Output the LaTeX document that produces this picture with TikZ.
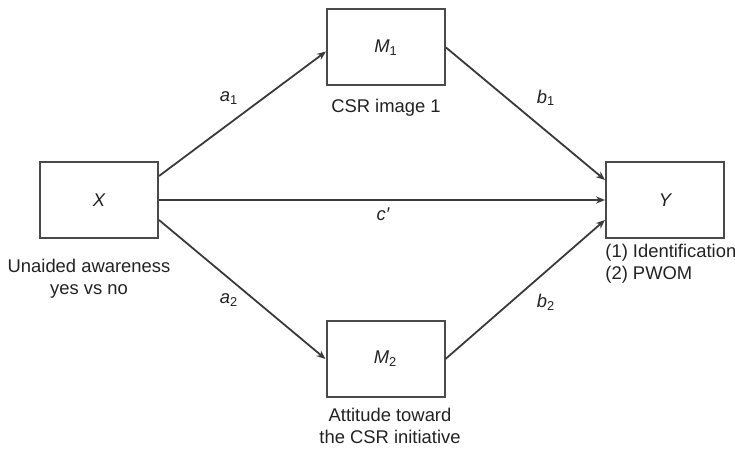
\documentclass[tikz,border=0pt]{standalone}
\usepackage{fontspec}
\setmainfont{Liberation Sans}
\usetikzlibrary{arrows.meta, positioning}
\definecolor{mline}{HTML}{3A3A3A}
\definecolor{mbox}{HTML}{4A4A4A}
\definecolor{mtext}{HTML}{222222}
\tikzset{
  vbox/.style={draw=mbox, line width=1pt, minimum width=59pt, minimum height=38pt,
               inner sep=0pt, font=\fontsize{9.2}{11}\selectfont\itshape, text=mtext},
  lab/.style={font=\fontsize{9.2}{11}\selectfont, align=center, inner sep=0pt, text=mtext},
  plab/.style={font=\fontsize{9.2}{11}\selectfont\itshape, inner sep=0pt, text=mtext},
  arr/.style={-{Stealth[length=4.5pt,width=3.6pt]}, line width=0.9pt, mline},
}

\begin{document}
\begin{tikzpicture}[x=0.5pt, y=-0.5pt]
  \useasboundingbox (0,0) rectangle (735,449);

  % boxes
  \node[vbox] (X)  at (99,200)    {X};
  \node[vbox] (M1) at (386,47.5)  {M\textsubscript{\upshape 1}};
  \node[vbox] (M2) at (385.5,359) {M\textsubscript{\upshape 2}};
  \node[vbox] (Y)  at (665,200)   {Y};

  % box captions
  \node[lab] (xcap)  at (89,279)  {Unaided awareness\\yes vs no};
  \node[lab] (m1cap) at (386,108) {CSR image 1};
  \node[lab] (m2cap) at (390,426) {Attitude toward\\the CSR initiative};
  \node[lab, anchor=west, align=left] (ycap) at (605,264)
    {(1) Identification\\(2) PWOM};

  % paths
  \draw[arr] ([yshift=12pt]X.east) -- ([yshift=-2pt]M1.west);
  \draw[arr] ([yshift=-10pt]X.east) -- (M2.west);
  \draw[arr] (X.east) -- (Y.west);
  \draw[arr] (M1.east) -- ([yshift=10pt]Y.west);
  \draw[arr] (M2.east) -- ([yshift=-10pt]Y.west);

  % path labels
  \node[plab] (a1) at (229,98)  {a\textsubscript{\upshape 1}};
  \node[plab] (a2) at (229,300) {a\textsubscript{\upshape 2}};
  \node[plab] (b1) at (546,98)  {b\textsubscript{\upshape 1}};
  \node[plab] (b2) at (546,302) {b\textsubscript{\upshape 2}};
  \node[plab] (c)  at (383,214) {c′};
\end{tikzpicture}
\end{document}
